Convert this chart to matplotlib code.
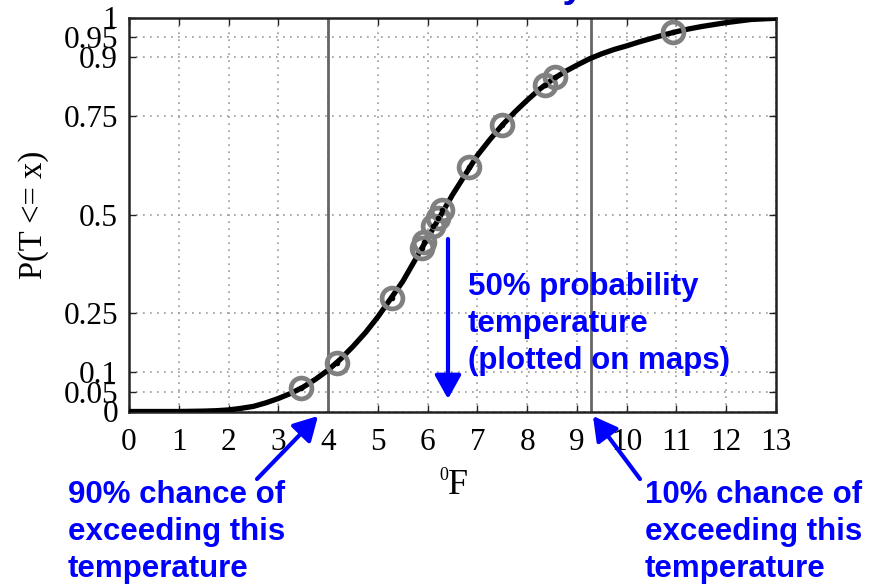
import matplotlib
matplotlib.use("Agg")
import matplotlib.pyplot as plt
from matplotlib.patches import FancyArrowPatch

# ---- data ----
curve_x = [0, 0.5, 1, 1.5, 1.75, 2, 2.25, 2.5, 2.75, 3, 3.25, 3.5, 3.75, 4,
           4.25, 4.5, 4.75, 5, 5.25, 5.5, 5.75, 6, 6.25, 6.5, 6.75, 7, 7.25,
           7.5, 7.75, 8, 8.25, 8.5, 8.75, 9, 9.25, 9.5, 9.75, 10, 10.25, 10.5,
           10.75, 11, 11.25, 11.5, 12, 12.5, 13]
curve_p = [0.0, 0.0, 0.0, 0.001, 0.002, 0.004, 0.008, 0.013, 0.022, 0.033,
           0.046, 0.062, 0.082, 0.105, 0.133, 0.165, 0.20, 0.24, 0.285, 0.33,
           0.385, 0.44, 0.495, 0.55, 0.60, 0.65, 0.69, 0.727, 0.76, 0.79,
           0.818, 0.842, 0.862, 0.879, 0.895, 0.908, 0.919, 0.928, 0.938,
           0.947, 0.956, 0.964, 0.971, 0.977, 0.987, 0.995, 0.998]

obs_x = [3.46, 4.17, 5.28, 5.88, 5.93, 6.10, 6.21, 6.28, 6.83, 7.50, 8.36, 8.56, 10.94]
obs_p = [0.060, 0.122, 0.287, 0.415, 0.43, 0.471, 0.49, 0.511, 0.621, 0.727, 0.829, 0.85, 0.964]

pct10_x = 4.0
pct90_x = 9.28

xticks = list(range(0, 14))
yticks = [0, 0.05, 0.1, 0.25, 0.5, 0.75, 0.9, 0.95, 1]
yticklabels = ["0", "0.05", "0.1", "0.25", "0.5", "0.75", "0.9", "0.95", "1"]

text_mid = ["50% probability", "temperature", "(plotted on maps)"]
text_left = ["90% chance of", "exceeding this", "temperature"]
text_right = ["10% chance of", "exceeding this", "temperature"]
title_fragment = "Probability"

blue = "#0000FF"
W, H = 888, 586

fig = plt.figure(figsize=(W / 100, H / 100), dpi=100)
ax = fig.add_axes([129 / W, 1 - 411.5 / H, (776 - 129) / W, (411.5 - 17.5) / H])

serif = ["Liberation Serif", "DejaVu Serif"]
sans = ["Liberation Sans", "DejaVu Sans"]

ax.set_xlim(0, 13)
ax.set_ylim(0, 1)
ax.set_xticks(xticks)
ax.set_xticklabels([str(t) for t in xticks], family=serif, fontsize=22.5)
ax.set_yticks(yticks)
ax.set_yticklabels(yticklabels, family=serif, fontsize=22.5)
ax.tick_params(axis="both", direction="in", length=5, width=1, top=True,
               right=True, color="#222222")
ax.tick_params(axis="x", pad=12)
ax.tick_params(axis="y", pad=8)
ax.grid(True, linestyle=(0, (1, 3.2)), color="#999999", linewidth=1.2)
for s in ax.spines.values():
    s.set_linewidth(1.8)
    s.set_color("#222222")

ax.axvline(pct10_x, color="#666666", linewidth=2)
ax.axvline(pct90_x, color="#666666", linewidth=2)

ax.plot(curve_x, curve_p, color="black", linewidth=3.8, solid_capstyle="round",
        solid_joinstyle="round", zorder=3)
ax.plot(obs_x, obs_p, linestyle="none", marker="o", markersize=15,
        markerfacecolor="none", markeredgecolor="#808080", markeredgewidth=3.4,
        zorder=4)
ax.plot(obs_x, obs_p, linestyle="none", marker="o", markersize=3,
        color="black", zorder=5)

fig.text(34 / W, 1 - 215 / H, "P(T <= x)", family=serif, fontsize=23.5,
         rotation=90, ha="center", va="center")
# x-axis label: small raised "0" followed by "F"
fig.text(448 / W, 1 - 480 / H, "0", family=serif, fontsize=13,
         ha="right", va="baseline")
fig.text(448 / W, 1 - 494 / H, "F", family=serif, fontsize=26,
         ha="left", va="baseline")

# blue annotations, one text per line, placed by baseline (pixels from top)
def lines(x, baselines, strings, size):
    for b, s in zip(baselines, strings):
        fig.text(x / W, 1 - b / H, s, fontsize=size, ha="left", va="baseline",
                 color=blue, fontweight="bold", family=sans)

lines(468, [295, 332, 369], text_mid, 22.5)
lines(68, [503, 540, 577], text_left, 22.5)
lines(645, [503, 540, 577], text_right, 22.5)

fig.text(584 / W, 1 + 3 / H, title_fragment, fontsize=28, ha="right",
         va="baseline", color="#0000CC", fontweight="bold", family=sans)

# arrows (figure pixel coordinates)
def parrow(x0, y0, x1, y1):
    a = FancyArrowPatch((x0 / W, 1 - y0 / H), (x1 / W, 1 - y1 / H),
                        transform=fig.transFigure,
                        arrowstyle="-|>,head_length=9,head_width=5",
                        color=blue, linewidth=3, mutation_scale=1.6,
                        shrinkA=0, shrinkB=0)
    fig.add_artist(a)

parrow(257, 479, 318, 416)
parrow(640, 479, 593, 416)
parrow(448, 239, 448, 399)

fig.savefig("out.png", dpi=100)
